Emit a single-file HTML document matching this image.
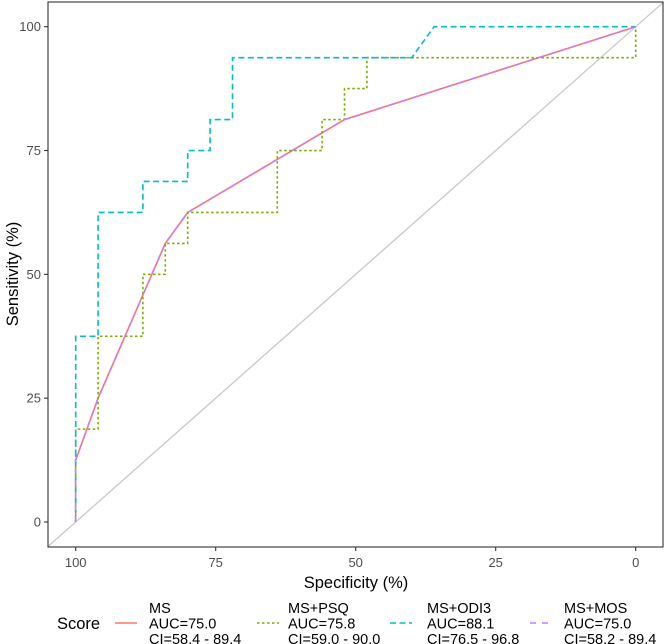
<!DOCTYPE html>
<html><head><meta charset="utf-8"><style>
html,body{margin:0;padding:0;background:#fff;}
svg{display:block;font-family:"Liberation Sans",sans-serif;}
</style></head><body>
<svg id="chart" width="666" height="644" viewBox="0 0 666 644" xmlns="http://www.w3.org/2000/svg">
<rect x="0" y="0" width="666" height="644" fill="#fff"/>
<g id="plot"></g>
<g id="axes"></g>
<text x="356" y="588" text-anchor="middle" font-size="16.5" fill="#000">Specificity (%)</text>
<text transform="translate(18,274) rotate(-90)" text-anchor="middle" font-size="16.5" fill="#000">Sensitivity (%)</text>
<g id="legend">
<text x="57" y="629" font-size="16.5" fill="#000">Score</text>
</g>
</svg>
<script>
const xTicks = [100, 75, 50, 25, 0];
const yTicks = [0, 25, 50, 75, 100];
const msSpec = [100, 100, 96, 84, 80, 52, 0];
const msSens = [0, 12.5, 25, 56.25, 62.5, 81.25, 100];
const psqSpec = [100, 100, 96, 96, 88, 88, 84, 84, 80, 80, 64, 64, 56, 56, 52, 52, 48, 48, 0, 0];
const psqSens = [0, 18.75, 18.75, 37.5, 37.5, 50, 50, 56.25, 56.25, 62.5, 62.5, 75, 75, 81.25, 81.25, 87.5, 87.5, 93.75, 93.75, 100];
const odiSpec = [100, 100, 96, 96, 88, 88, 80, 80, 76, 76, 72, 72, 40, 36, 0];
const odiSens = [0, 37.5, 37.5, 62.5, 62.5, 68.75, 68.75, 75, 75, 81.25, 81.25, 93.75, 93.75, 100, 100];
const mosSpec = [100, 100, 96, 84, 80, 52, 0];
const mosSens = [0, 12.5, 25, 56.25, 62.5, 81.25, 100];
const legendNames = ["MS", "MS+PSQ", "MS+ODI3", "MS+MOS"];
const legendAuc = ["AUC=75.0", "AUC=75.8", "AUC=88.1", "AUC=75.0"];
const legendCi = ["CI=58.4 - 89.4", "CI=59.0 - 90.0", "CI=76.5 - 96.8", "CI=58.2 - 89.4"];

const NS = "http://www.w3.org/2000/svg";
const P = {l: 48, r: 663, t: 2, b: 547};
const xs = v => 75.7 + (100 - v) * 5.6;
const ys = v => 522 - v * 4.953;
const plot = document.getElementById('plot');
const axes = document.getElementById('axes');
const legend = document.getElementById('legend');
function mk(tag, attrs, parent) {
  const e = document.createElementNS(NS, tag);
  for (const k in attrs) e.setAttribute(k, attrs[k]);
  parent.appendChild(e);
  return e;
}
const diag = mk('line', {x1: xs(105), y1: ys(-5), x2: xs(-5), y2: ys(105), stroke: '#c8c8c8', 'stroke-width': 1.3}, plot);



function series(spec, sens, color, dash, name) {
  const pts = spec.map((s, i) => xs(s).toFixed(2) + ',' + ys(sens[i]).toFixed(2)).join(' ');
  const pl = mk('polyline', {points: pts, fill: 'none', stroke: color, 'stroke-width': 1.6, 'stroke-dasharray': dash}, plot);
  
  
}
series(msSpec, msSens, '#F8766D', 'none', 'ms-curve');
series(psqSpec, psqSens, '#7CAE00', '2.5,2.5', 'ms-psq-curve');
series(odiSpec, odiSens, '#00BFC4', '6,3.5', 'ms-odi3-curve');
series(mosSpec, mosSens, '#C77CFF', '6,6', 'ms-mos-curve');

const border = mk('rect', {x: P.l, y: P.t, width: P.r - P.l, height: P.b - P.t, fill: 'none', stroke: '#333', 'stroke-width': 1.1}, plot);



xTicks.forEach(v => {
  const t = mk('line', {x1: xs(v), x2: xs(v), y1: P.b, y2: P.b + 4, stroke: '#333', 'stroke-width': 1.1}, axes);
  
  
  const l = mk('text', {x: xs(v), y: P.b + 20, 'text-anchor': 'middle', 'font-size': 13, fill: '#4d4d4d'}, axes);
  l.textContent = v;
  
  
});
yTicks.forEach(v => {
  const t = mk('line', {x1: P.l - 4, x2: P.l, y1: ys(v), y2: ys(v), stroke: '#333', 'stroke-width': 1.1}, axes);
  
  
  const l = mk('text', {x: P.l - 7, y: ys(v) + 4.5, 'text-anchor': 'end', 'font-size': 13, fill: '#4d4d4d'}, axes);
  l.textContent = v;
  
  
});

const keyX = [115, 257, 390, 530];
const txtX = [149, 288, 427, 564];
const colors = ['#F8766D', '#7CAE00', '#00BFC4', '#C77CFF'];
const dashes = ['none', '2.5,2.5', '6,3.5', '6,6'];
legendNames.forEach((n, i) => {
  const k = mk('line', {x1: keyX[i], x2: keyX[i] + 22, y1: 623, y2: 623, stroke: colors[i], 'stroke-width': 1.6, 'stroke-dasharray': dashes[i]}, legend);
  
  
  const t = mk('text', {x: txtX[i], y: 613, 'font-size': 14.5, fill: '#000'}, legend);
  
  
  [n, legendAuc[i], legendCi[i]].forEach((s, j) => {
    const ts = mk('tspan', {x: txtX[i], dy: j === 0 ? 0 : 15.5}, t);
    ts.textContent = s;
  });
});
</script>
</body></html>
